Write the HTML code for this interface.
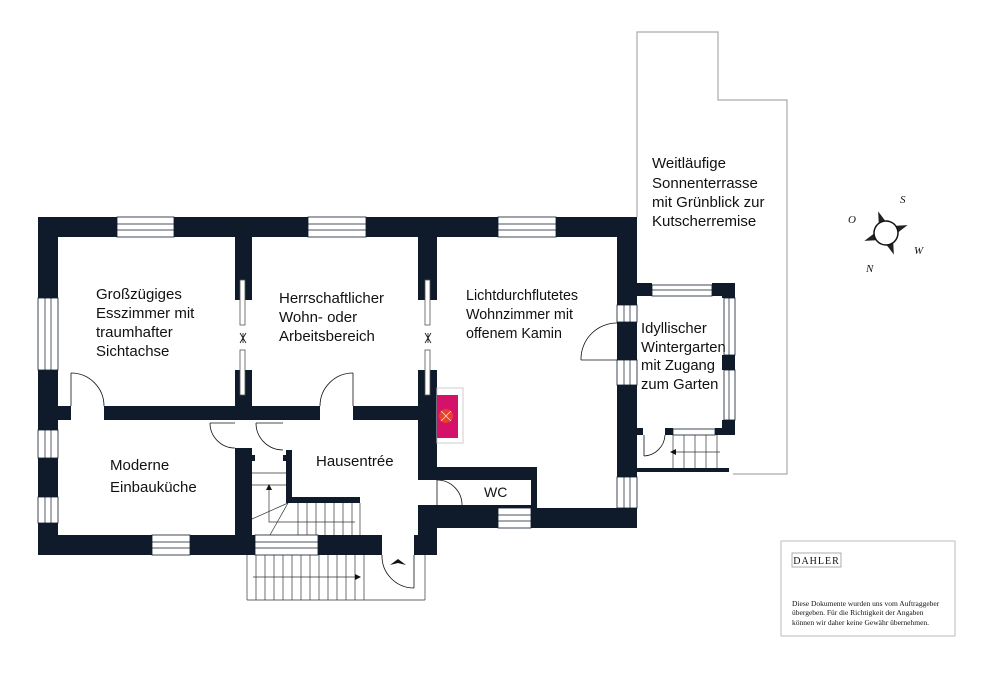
<!DOCTYPE html>
<html><head><meta charset="utf-8"><style>
html,body{margin:0;padding:0;background:#fff;}
svg{display:block}
text{font-family:"Liberation Sans",sans-serif;fill:#111;}
</style></head><body>
<svg width="1000" height="679" viewBox="0 0 1000 679" xmlns="http://www.w3.org/2000/svg">
<polyline points="733,474 787,474 787,100 718,100 718,32 637,32 637,217" fill="none" stroke="#aaa" stroke-width="1.2"/>
<g fill="#0f1a2a">
<rect x="38" y="217" width="599" height="20"/>
<rect x="38" y="217" width="20" height="338"/>
<rect x="38" y="535" width="344" height="20"/>
<rect x="414" y="535" width="23" height="20"/>
<rect x="617" y="217" width="20" height="311"/>
<rect x="531" y="508" width="106" height="20"/>
<rect x="420" y="467" width="117" height="13"/>
<rect x="531" y="467" width="6" height="61"/>
<rect x="420" y="505" width="115" height="23"/>
<rect x="418" y="237" width="19" height="63"/>
<rect x="418" y="370" width="19" height="110"/>
<rect x="418" y="505" width="19" height="50"/>
<rect x="235" y="237" width="17" height="63"/>
<rect x="235" y="370" width="17" height="50"/>
<rect x="235" y="448" width="17" height="90"/>
<rect x="58" y="406" width="13" height="14"/>
<rect x="104" y="406" width="216" height="14"/>
<rect x="353" y="406" width="67" height="14"/>
<rect x="286" y="450" width="6" height="53"/>
<rect x="286" y="497" width="74" height="6"/>
<rect x="252" y="455" width="3" height="6"/>
<rect x="283" y="455" width="3" height="6"/>
<rect x="637" y="283" width="15" height="13"/>
<rect x="712" y="283" width="23" height="13"/>
<rect x="722" y="283" width="13" height="15"/>
<rect x="722" y="355" width="13" height="15"/>
<rect x="722" y="420" width="13" height="15"/>
<rect x="617" y="385" width="20" height="90"/>
<rect x="637" y="428" width="6" height="7"/>
<rect x="665" y="428" width="8" height="7"/>
<rect x="715" y="428" width="20" height="7"/>
<rect x="637" y="468" width="92" height="4"/>
</g>
<g fill="#fff" stroke="#0f1a2a" stroke-width="0.8">
<rect x="117" y="217" width="57" height="20"/>
<rect x="308" y="217" width="58" height="20"/>
<rect x="498" y="217" width="58" height="20"/>
<rect x="38" y="298" width="20" height="72"/>
<rect x="38" y="430" width="20" height="28"/>
<rect x="38" y="497" width="20" height="26"/>
<rect x="152" y="535" width="38" height="20"/>
<rect x="255" y="535" width="63" height="20"/>
<rect x="498" y="508" width="33" height="20"/>
<rect x="617" y="305" width="20" height="17"/>
<rect x="617" y="360" width="20" height="25"/>
<rect x="617" y="477" width="20" height="31"/>
<rect x="652" y="285" width="60" height="11"/>
<rect x="724" y="298" width="11" height="57"/>
<rect x="724" y="370" width="11" height="50"/>
<rect x="673" y="429" width="42" height="6"/>
</g>
<g stroke="#0f1a2a" stroke-width="0.7">
<line x1="117" y1="224" x2="174" y2="224"/><line x1="117" y1="230" x2="174" y2="230"/>
<line x1="308" y1="224" x2="366" y2="224"/><line x1="308" y1="230" x2="366" y2="230"/>
<line x1="498" y1="224" x2="556" y2="224"/><line x1="498" y1="230" x2="556" y2="230"/>
<line x1="45" y1="298" x2="45" y2="370"/><line x1="51" y1="298" x2="51" y2="370"/>
<line x1="45" y1="430" x2="45" y2="458"/><line x1="51" y1="430" x2="51" y2="458"/>
<line x1="45" y1="497" x2="45" y2="523"/><line x1="51" y1="497" x2="51" y2="523"/>
<line x1="152" y1="542" x2="190" y2="542"/><line x1="152" y1="548" x2="190" y2="548"/>
<line x1="255" y1="542" x2="318" y2="542"/><line x1="255" y1="548" x2="318" y2="548"/>
<line x1="498" y1="515" x2="531" y2="515"/><line x1="498" y1="521" x2="531" y2="521"/>
<line x1="624" y1="305" x2="624" y2="322"/><line x1="630" y1="305" x2="630" y2="322"/>
<line x1="624" y1="360" x2="624" y2="385"/><line x1="630" y1="360" x2="630" y2="385"/>
<line x1="624" y1="477" x2="624" y2="508"/><line x1="630" y1="477" x2="630" y2="508"/>
<line x1="652" y1="290" x2="712" y2="290"/>
<line x1="729" y1="298" x2="729" y2="355"/><line x1="729" y1="370" x2="729" y2="420"/>
</g>
<g fill="#fff" stroke="#555" stroke-width="0.8">
<rect x="240" y="280" width="5" height="45"/><rect x="240" y="350" width="5" height="45"/>
<rect x="425" y="280" width="5" height="45"/><rect x="425" y="350" width="5" height="45"/>
</g>
<g stroke="#111" stroke-width="0.8" fill="none">
<path d="M240,333 L246,343 M246,333 L240,343 M243,333 V343"/>
<path d="M425,333 L431,343 M431,333 L425,343 M428,333 V343"/>
<path d="M71,373 A33,33 0 0 1 104,406"/><line x1="71" y1="373" x2="71" y2="406"/>
<path d="M353,373 A33,33 0 0 0 320,406"/><line x1="353" y1="373" x2="353" y2="406"/>
<path d="M210,423 A25,25 0 0 0 235,448"/><line x1="210" y1="423" x2="235" y2="423"/>
<path d="M256,423 A27,27 0 0 0 283,450"/><line x1="256" y1="423" x2="283" y2="423"/>
<path d="M437,480 A25,25 0 0 1 462,505"/><line x1="437" y1="480" x2="437" y2="505"/>
<path d="M581,360 A36,36 0 0 1 617,323"/><line x1="581" y1="360" x2="617" y2="360"/>
<path d="M644,456 A22,22 0 0 0 665,435"/><line x1="644" y1="435" x2="644" y2="456"/>
<path d="M382,555 A32,32 0 0 0 414,588"/><line x1="414" y1="555" x2="414" y2="588"/>
</g>
<g stroke="#333" stroke-width="0.7" fill="none">
<line x1="252" y1="473" x2="286" y2="473"/><line x1="252" y1="485" x2="286" y2="485"/>
<line x1="252" y1="519" x2="288" y2="503"/><line x1="270" y1="535" x2="288" y2="503"/>
<line x1="298" y1="503" x2="298" y2="535"/><line x1="307" y1="503" x2="307" y2="535"/>
<line x1="316" y1="503" x2="316" y2="535"/><line x1="325" y1="503" x2="325" y2="535"/>
<line x1="334" y1="503" x2="334" y2="535"/><line x1="343" y1="503" x2="343" y2="535"/>
<line x1="352" y1="503" x2="352" y2="535"/><line x1="360" y1="503" x2="360" y2="535"/>
<polyline points="269,490 269,522 355,522"/>
<line x1="247" y1="555" x2="247" y2="600"/>
<line x1="256" y1="555" x2="256" y2="600"/><line x1="265" y1="555" x2="265" y2="600"/>
<line x1="274" y1="555" x2="274" y2="600"/><line x1="283" y1="555" x2="283" y2="600"/>
<line x1="292" y1="555" x2="292" y2="600"/><line x1="301" y1="555" x2="301" y2="600"/>
<line x1="310" y1="555" x2="310" y2="600"/><line x1="319" y1="555" x2="319" y2="600"/>
<line x1="328" y1="555" x2="328" y2="600"/><line x1="337" y1="555" x2="337" y2="600"/>
<line x1="346" y1="555" x2="346" y2="600"/><line x1="355" y1="555" x2="355" y2="600"/>
<line x1="364" y1="555" x2="364" y2="600"/>
<line x1="253" y1="577" x2="355" y2="577"/>
<line x1="247" y1="600" x2="425" y2="600"/><line x1="425" y1="555" x2="425" y2="600"/>
<line x1="673" y1="435" x2="673" y2="468"/><line x1="684" y1="435" x2="684" y2="468"/>
<line x1="695" y1="435" x2="695" y2="468"/><line x1="706" y1="435" x2="706" y2="468"/>
<line x1="717" y1="435" x2="717" y2="468"/>
<line x1="673" y1="452" x2="720" y2="452"/>
</g>
<g fill="#111">
<polygon points="355,574 361,577 355,580"/>
<polygon points="266,490 269,484 272,490"/>
<polygon points="676,449 670,452 676,455"/>
<polygon points="390,565 398,559 406,565 398,563"/>
</g>
<rect x="437" y="388" width="26" height="55" fill="#fff" stroke="#ccc" stroke-width="1"/>
<rect x="437" y="395" width="21" height="43" fill="#d4126a"/>
<circle cx="446" cy="416" r="7" fill="#e8402a"/>
<path d="M441,411 l10,10 M451,411 l-10,10" stroke="#fff" stroke-width="0.6"/>
<!-- compass -->
<g transform="translate(886,233) rotate(-20)">
<polygon points="-4,-10 0,-23 4,-10" fill="#222"/>
<polygon points="-4,10 0,23 4,10" fill="#222"/>
<polygon points="-10,-4 -23,0 -10,4" fill="#222"/>
<polygon points="10,-4 23,0 10,4" fill="#222"/>
<circle r="12" fill="#fff" stroke="#111" stroke-width="1.5"/>
</g>
<g font-size="11" font-style="italic">
<text x="848" y="223" style="font-family:'Liberation Serif',serif">O</text>
<text x="900" y="203" style="font-family:'Liberation Serif',serif">S</text>
<text x="914" y="254" style="font-family:'Liberation Serif',serif">W</text>
<text x="866" y="272" style="font-family:'Liberation Serif',serif">N</text>
</g>
<g font-size="15">
<text x="96" y="299">Großzügiges</text><text x="96" y="318">Esszimmer mit</text><text x="96" y="337">traumhafter</text><text x="96" y="356">Sichtachse</text>
<text x="279" y="303">Herrschaftlicher</text><text x="279" y="322">Wohn- oder</text><text x="279" y="341">Arbeitsbereich</text>
<text x="110" y="470">Moderne</text><text x="110" y="492">Einbauküche</text>
<text x="316" y="466">Hausentrée</text>
<text x="484" y="497" font-size="14">WC</text>
<text x="652" y="168">Weitläufige</text><text x="652" y="188">Sonnenterrasse</text><text x="652" y="207">mit Grünblick zur</text><text x="652" y="226">Kutscherremise</text>
</g>
<g font-size="14.3">
<text x="466" y="300">Lichtdurchflutetes</text><text x="466" y="319">Wohnzimmer mit</text><text x="466" y="338">offenem Kamin</text>
</g>
<g font-size="14.8">
<text x="641" y="333">Idyllischer</text><text x="641" y="352">Wintergarten</text><text x="641" y="370">mit Zugang</text><text x="641" y="389">zum Garten</text>
</g>
<rect x="781" y="541" width="174" height="95" fill="#fff" stroke="#bbb" stroke-width="1"/>
<rect x="792" y="553" width="49" height="14" fill="#fff" stroke="#999" stroke-width="0.8"/>
<text x="816.5" y="564" font-size="10" text-anchor="middle" letter-spacing="1" style="font-family:'Liberation Serif',serif">DAHLER</text>
<g font-size="7.5" fill="#333">
<text x="792" y="606" style="font-family:'Liberation Serif',serif">Diese Dokumente wurden uns vom Auftraggeber</text>
<text x="792" y="615" style="font-family:'Liberation Serif',serif">übergeben. Für die Richtigkeit der Angaben</text>
<text x="792" y="625" style="font-family:'Liberation Serif',serif">können wir daher keine Gewähr übernehmen.</text>
</g>
</svg>
</body></html>
